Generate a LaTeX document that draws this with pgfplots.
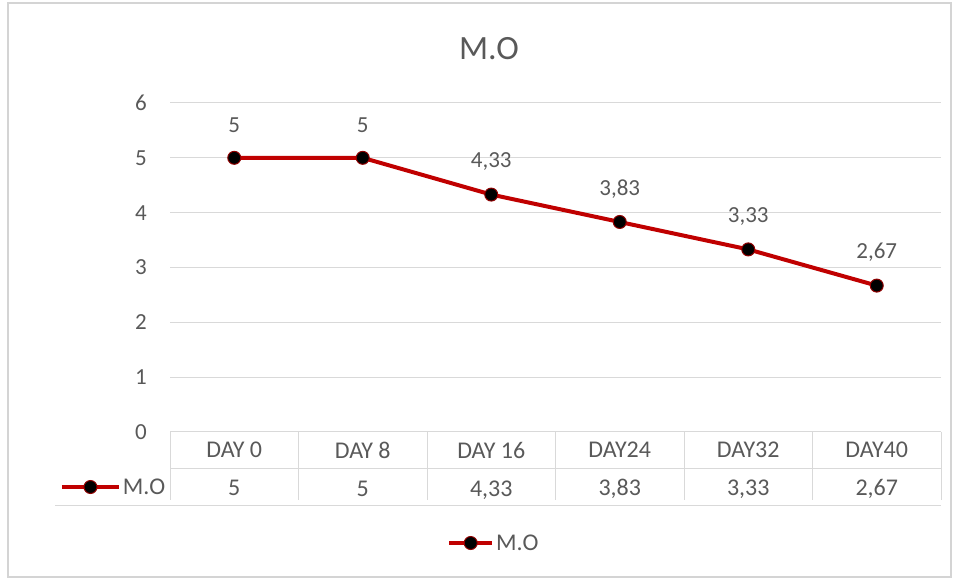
\documentclass[border=0pt]{standalone}
\usepackage{pgfplots}
\pgfplotsset{compat=1.18}
\usepackage{pgfplotstable}
\usepackage{fontspec}
\setmainfont{Carlito}

\definecolor{txt}{HTML}{595959}
\definecolor{gridc}{HTML}{D9D9D9}
\definecolor{linec}{HTML}{C00000}
\definecolor{framec}{HTML}{D4D4D4}

% M.O readings per sampling day
\pgfplotstableread{
x y
0 5
1 5
2 4.33
3 3.83
4 3.33
5 2.67
}\modata

\pgfplotsset{
  moline/.style={line width=4pt, color=linec, mark=*, mark size=6.5pt,
    mark options={fill=black, draw=linec!75!black, line width=1pt}},
  keylen/.style={legend image code/.code={%
    \draw[mark repeat=2,mark phase=2,##1] plot coordinates {(0pt,0pt) (#1/2,0pt) (#1,0pt)};}},
}

\begin{document}
\begin{tikzpicture}[font=\fontsize{23}{28}\selectfont, text=txt]
\path[use as bounding box] (0pt,0pt) rectangle (958pt,578pt);
\draw[framec, line width=1.5pt] (8pt,1pt) rectangle (951pt,575pt);
\node[font=\fontsize{34}{40}\selectfont, text=txt] at (489pt,529pt) {M.O};

\begin{axis}[
  at={(170pt,146pt)}, anchor=south west,
  scale only axis, width=771pt, height=329pt,
  xmin=-0.5, xmax=5.5, ymin=0, ymax=6,
  /pgf/number format/assume math mode=true,
  axis line style={draw=none},
  major tick length=0pt,
  ytick={0,1,...,6},
  ymajorgrids, grid style={gridc, line width=1pt},
  yticklabel style={font=\fontsize{23}{26}\selectfont, text=txt, inner sep=0pt, xshift=-23pt},
  xtick={0,...,5},
  xticklabels={{DAY 0\\5},{DAY 8\\5},{DAY 16\\4,33},{DAY24\\3,83},{DAY32\\3,33},{DAY40\\2,67}},
  xticklabel style={align=center, font=\fontsize{24}{38}\selectfont, text=txt,
    anchor=north, inner sep=0pt, yshift=-10pt},
  clip=false,
  nodes near coords,
  nodes near coords style={font=\fontsize{23}{28}\selectfont, text=txt,
    anchor=center, yshift=33pt,
    /pgf/number format/.cd, use comma, precision=2, assume math mode=true},
  keylen=43pt,
  legend style={draw=none, fill=none, at={(axis description cs:0.3554,-0.3374)},
    anchor=west, font=\fontsize{24}{28}\selectfont, text=txt},
]
\addplot[moline] table[x=x, y=y] {\modata};
\addlegendentry{M.O}
\end{axis}

% data table grid below the plot
\begin{scope}[gridc, line width=1pt]
  \draw (170pt,146pt) -- (941pt,146pt);
  \draw (170pt,109pt) -- (941pt,109pt);
  \draw (55pt,72pt) -- (941pt,72pt);
  \foreach \k in {0,...,6} {
    \draw ({170pt+\k*128.5pt},146pt) -- ({170pt+\k*128.5pt},78pt);
  }
\end{scope}

% series key inside the table's row header
\begin{axis}[
  at={(170pt,146pt)}, anchor=south west,
  scale only axis, width=771pt, height=329pt,
  xmin=0, xmax=1, ymin=0, ymax=1, hide axis,
  keylen=57pt,
  legend style={draw=none, fill=none, at={(axis description cs:-0.1427,-0.1672)},
    anchor=west, font=\fontsize{24}{28}\selectfont, text=txt,
    inner sep=0pt, outer sep=0pt},
]
\addlegendimage{moline}
\addlegendentry{M.O}
\end{axis}
\end{tikzpicture}
\end{document}
